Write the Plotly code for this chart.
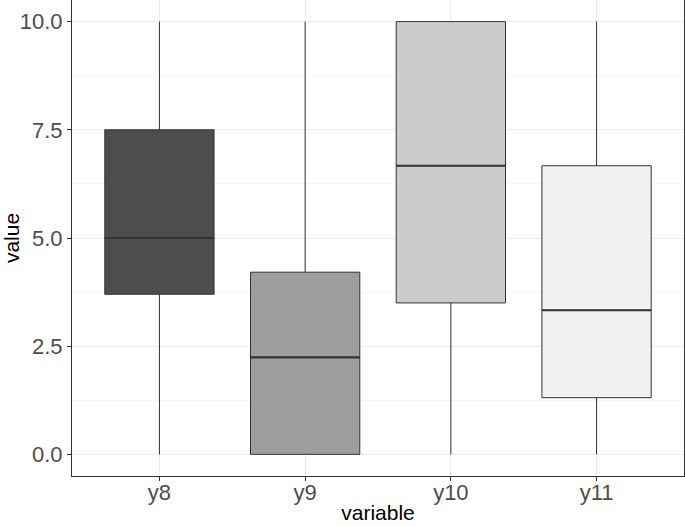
import plotly.graph_objects as go

categories = ["y8", "y9", "y10", "y11"]
lower = [0.0, 0.0, 0.0, 0.0]
q1 = [3.70, 0.0, 3.50, 1.31]
median = [5.0, 2.24, 6.67, 3.33]
q3 = [7.5, 4.21, 10.0, 6.67]
upper = [10.0, 10.0, 10.0, 10.0]
fills = ["#4D4D4D", "#9E9E9E", "#CCCCCC", "#F1F1F1"]

box_width = 0.75
fig = go.Figure()
for i, cat in enumerate(categories):
    xpos = i + 1
    fig.add_trace(go.Box(
        x=[xpos], q1=[q1[i]], median=[median[i]], q3=[q3[i]],
        lowerfence=[lower[i]], upperfence=[upper[i]],
        width=box_width, whiskerwidth=0,
        fillcolor=fills[i], line=dict(color="#333333", width=1),
        boxpoints=False, showlegend=False, name=cat, hoverinfo="skip",
    ))
    fig.add_trace(go.Scatter(
        x=[xpos - box_width / 2, xpos + box_width / 2],
        y=[median[i], median[i]], mode="lines",
        line=dict(color="#333333", width=2.2),
        showlegend=False, hoverinfo="skip",
    ))

fig.update_layout(
    width=685, height=526,
    margin=dict(l=72, r=1, t=0, b=50),
    paper_bgcolor="white", plot_bgcolor="white",
    font=dict(family="Liberation Sans, Arial, sans-serif"),
)
fig.update_xaxes(
    range=[0.4, 4.6], tickmode="array",
    tickvals=list(range(1, len(categories) + 1)), ticktext=categories,
    showgrid=True, gridcolor="#EBEBEB", gridwidth=1,
    zeroline=False, showline=True, linecolor="#333333", linewidth=1, mirror=True,
    ticks="outside", ticklen=4, tickcolor="#333333", tickwidth=1,
    tickfont=dict(size=22, color="#4D4D4D"), automargin=False,
    ticklabelstandoff=-7,
    title=dict(text="variable", font=dict(size=21, color="black"), standoff=0),
)
fig.update_yaxes(
    range=[-0.5, 10.5], tickmode="array",
    tickvals=[0, 2.5, 5, 7.5, 10], ticktext=["0.0", "2.5", "5.0", "7.5", "10.0"],
    showgrid=True, gridcolor="#EBEBEB", gridwidth=1,
    minor=dict(tickmode="array", tickvals=[1.25, 3.75, 6.25, 8.75],
               showgrid=True, gridcolor="#F5F5F5", gridwidth=0.6, ticks=""),
    zeroline=False, showline=True, linecolor="#333333", linewidth=1, mirror=True,
    ticks="outside", ticklen=4, tickcolor="#333333", tickwidth=1,
    tickfont=dict(size=22, color="#4D4D4D"), automargin=False,
    title=dict(text="value", font=dict(size=21, color="black"), standoff=0),
)
fig.write_html("out.html", config={"displayModeBar": False},
               post_script="document.body.style.margin='0';")
